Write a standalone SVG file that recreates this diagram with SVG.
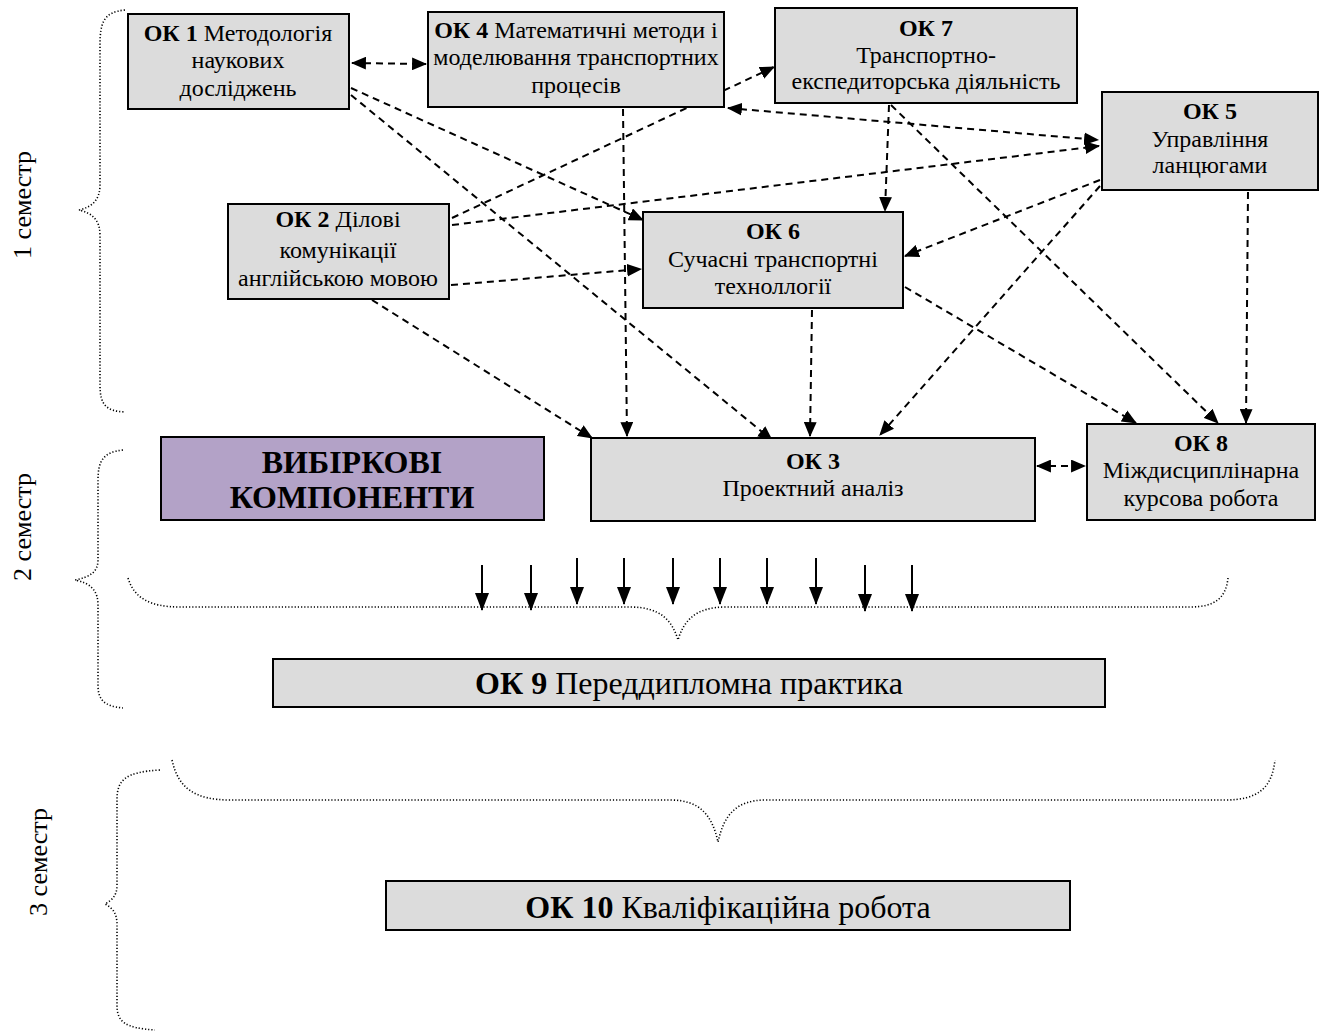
<svg xmlns="http://www.w3.org/2000/svg" width="1330" height="1036" viewBox="0 0 1330 1036">
<defs>
<marker id="ah" viewBox="0 0 14 12" refX="13" refY="6" markerWidth="15" markerHeight="13" orient="auto-start-reverse" markerUnits="userSpaceOnUse"><path d="M0,0 L14,6 L0,12 z" fill="#000"/></marker>
<marker id="sa" viewBox="0 0 18 14" refX="17" refY="7" markerWidth="18" markerHeight="14" orient="auto" markerUnits="userSpaceOnUse"><path d="M0,0 L18,7 L0,14 z" fill="#000"/></marker>
</defs>
<style>
.box{fill:#dcdcdc;stroke:#000;stroke-width:2}
.vib{fill:#b3a2c7;stroke:#000;stroke-width:2}
.t{font-family:"Liberation Serif","Times New Roman",serif;font-size:24px;fill:#000;text-anchor:middle}
.big{font-size:32px}
.b{font-weight:bold}
.dash{fill:none;stroke:#000;stroke-width:2;stroke-dasharray:7,5}
.solid{fill:none;stroke:#000;stroke-width:2}
.brace{fill:none;stroke:#000;stroke-width:1.6;stroke-dasharray:1.2,2}
.sem{font-family:"Liberation Serif","Times New Roman",serif;font-size:26px;fill:#000;text-anchor:middle}
</style>
<rect width="1330" height="1036" fill="#fff"/>

<g id="braces">
<path class="brace" d="M125,10 C104,12 100,22 100,45 L100,185 C100,200 92,207 79,210 C92,213 100,220 100,235 L100,385 C100,405 106,411 125,412"/>
<path class="brace" d="M123,450 C104,452 98,460 98,480 L98,560 C98,572 90,577 75,580 C90,583 98,590 98,605 L98,685 C98,700 104,706 123,708"/>
<path class="brace" d="M160,770 C125,772 117,780 117,800 L117,885 C117,896 112,900 105,904 C112,908 117,912 117,925 L117,1005 C117,1022 125,1028 155,1030"/>
<path class="brace" d="M128,578 C134,598 150,607 180,607 L630,607 C660,607 672,620 678,640 C684,620 696,607 726,607 L1190,607 C1215,607 1226,598 1228,578"/>
<path class="brace" d="M172,760 C178,788 195,800 230,800 L670,800 C700,800 712,815 718,842 C724,815 736,800 766,800 L1225,800 C1258,800 1272,788 1275,760"/>
</g>

<g id="labels">
<text class="sem" transform="translate(31,205) rotate(-90)">1 семестр</text>
<text class="sem" transform="translate(31,527) rotate(-90)">2 семестр</text>
<text class="sem" transform="translate(47,862) rotate(-90)">3 семестр</text>
</g>

<g id="connectors">
<line class="dash" x1="352" y1="63" x2="426" y2="64" marker-start="url(#ah)" marker-end="url(#ah)"/>
<line class="dash" x1="351" y1="88" x2="643" y2="220" marker-end="url(#ah)"/>
<line class="dash" x1="351" y1="95" x2="772" y2="440" marker-end="url(#ah)"/>
<line class="dash" x1="452" y1="218" x2="774" y2="67" marker-end="url(#ah)"/>
<line class="dash" x1="452" y1="225" x2="1099" y2="146" marker-end="url(#ah)"/>
<line class="dash" x1="451" y1="285" x2="641" y2="269" marker-end="url(#ah)"/>
<line class="dash" x1="372" y1="300" x2="592" y2="438" marker-end="url(#ah)"/>
<line class="dash" x1="623" y1="109" x2="627" y2="436" marker-end="url(#ah)"/>
<line class="dash" x1="889" y1="105" x2="885" y2="211" marker-end="url(#ah)"/>
<line class="dash" x1="891" y1="105" x2="1218" y2="423" marker-end="url(#ah)"/>
<line class="dash" x1="728" y1="108" x2="1098" y2="140" marker-start="url(#ah)" marker-end="url(#ah)"/>
<line class="dash" x1="1100" y1="180" x2="905" y2="256" marker-end="url(#ah)"/>
<line class="dash" x1="1100" y1="186" x2="880" y2="435" marker-end="url(#ah)"/>
<line class="dash" x1="1248" y1="192" x2="1246" y2="423" marker-end="url(#ah)"/>
<line class="dash" x1="812" y1="310" x2="810" y2="436" marker-end="url(#ah)"/>
<line class="dash" x1="905" y1="287" x2="1136" y2="423" marker-end="url(#ah)"/>
<line class="dash" x1="1037" y1="466" x2="1085" y2="466" marker-start="url(#ah)" marker-end="url(#ah)"/>
<line class="solid" x1="482" y1="565" x2="482" y2="610" marker-end="url(#sa)"/>
<line class="solid" x1="531" y1="565" x2="531" y2="610" marker-end="url(#sa)"/>
<line class="solid" x1="577" y1="558" x2="577" y2="604" marker-end="url(#sa)"/>
<line class="solid" x1="624" y1="558" x2="624" y2="604" marker-end="url(#sa)"/>
<line class="solid" x1="673" y1="558" x2="673" y2="604" marker-end="url(#sa)"/>
<line class="solid" x1="720" y1="558" x2="720" y2="604" marker-end="url(#sa)"/>
<line class="solid" x1="767" y1="558" x2="767" y2="604" marker-end="url(#sa)"/>
<line class="solid" x1="816" y1="558" x2="816" y2="604" marker-end="url(#sa)"/>
<line class="solid" x1="865" y1="565" x2="865" y2="611" marker-end="url(#sa)"/>
<line class="solid" x1="912" y1="565" x2="912" y2="611" marker-end="url(#sa)"/>
</g>

<g id="ok1"><rect class="box" x="128" y="14" width="221" height="95"/>
<text class="t" x="238" y="41"><tspan class="b">ОК 1</tspan> Методологія</text>
<text class="t" x="238" y="68">наукових</text>
<text class="t" x="238" y="96">досліджень</text></g>

<g id="ok4"><rect class="box" x="428" y="12" width="296" height="95"/>
<text class="t" x="576" y="38"><tspan class="b">ОК 4</tspan> Математичні методи і</text>
<text class="t" x="576" y="65">моделювання транспортних</text>
<text class="t" x="576" y="93">процесів</text></g>

<g id="ok7"><rect class="box" x="775" y="8" width="302" height="95"/>
<text class="t" x="926" y="36"><tspan class="b">ОК 7</tspan></text>
<text class="t" x="926" y="63">Транспортно-</text>
<text class="t" x="926" y="89">експедиторська діяльність</text></g>

<g id="ok5"><rect class="box" x="1102" y="92" width="216" height="98"/>
<text class="t" x="1210" y="119"><tspan class="b">ОК 5</tspan></text>
<text class="t" x="1210" y="147">Управління</text>
<text class="t" x="1210" y="173">ланцюгами</text></g>

<g id="ok2"><rect class="box" x="228" y="204" width="221" height="95"/>
<text class="t" x="338" y="227"><tspan class="b">ОК 2</tspan> Ділові</text>
<text class="t" x="338" y="258">комунікації</text>
<text class="t" x="338" y="286">англійською мовою</text></g>

<g id="ok6"><rect class="box" x="643" y="212" width="260" height="96"/>
<text class="t" x="773" y="239"><tspan class="b">ОК 6</tspan></text>
<text class="t" x="773" y="267">Сучасні транспортні</text>
<text class="t" x="773" y="294">техноллогії</text></g>

<g id="vib"><rect class="vib" x="161" y="437" width="383" height="83"/>
<text class="t b" x="352" y="473" style="font-size:32px">ВИБІРКОВІ</text>
<text class="t b" x="352" y="508" style="font-size:32px">КОМПОНЕНТИ</text></g>

<g id="ok3"><rect class="box" x="591" y="438" width="444" height="83"/>
<text class="t" x="813" y="469"><tspan class="b">ОК 3</tspan></text>
<text class="t" x="813" y="496">Проектний аналіз</text></g>

<g id="ok8"><rect class="box" x="1087" y="424" width="228" height="96"/>
<text class="t" x="1201" y="451"><tspan class="b">ОК 8</tspan></text>
<text class="t" x="1201" y="478">Міждисциплінарна</text>
<text class="t" x="1201" y="506">курсова робота</text></g>

<g id="ok9"><rect class="box" x="273" y="659" width="832" height="48"/>
<text class="t big" x="689" y="694"><tspan class="b">ОК 9</tspan> Переддипломна практика</text></g>

<g id="ok10"><rect class="box" x="386" y="881" width="684" height="49"/>
<text class="t big" x="728" y="918"><tspan class="b">ОК 10</tspan> Кваліфікаційна робота</text></g>
</svg>
